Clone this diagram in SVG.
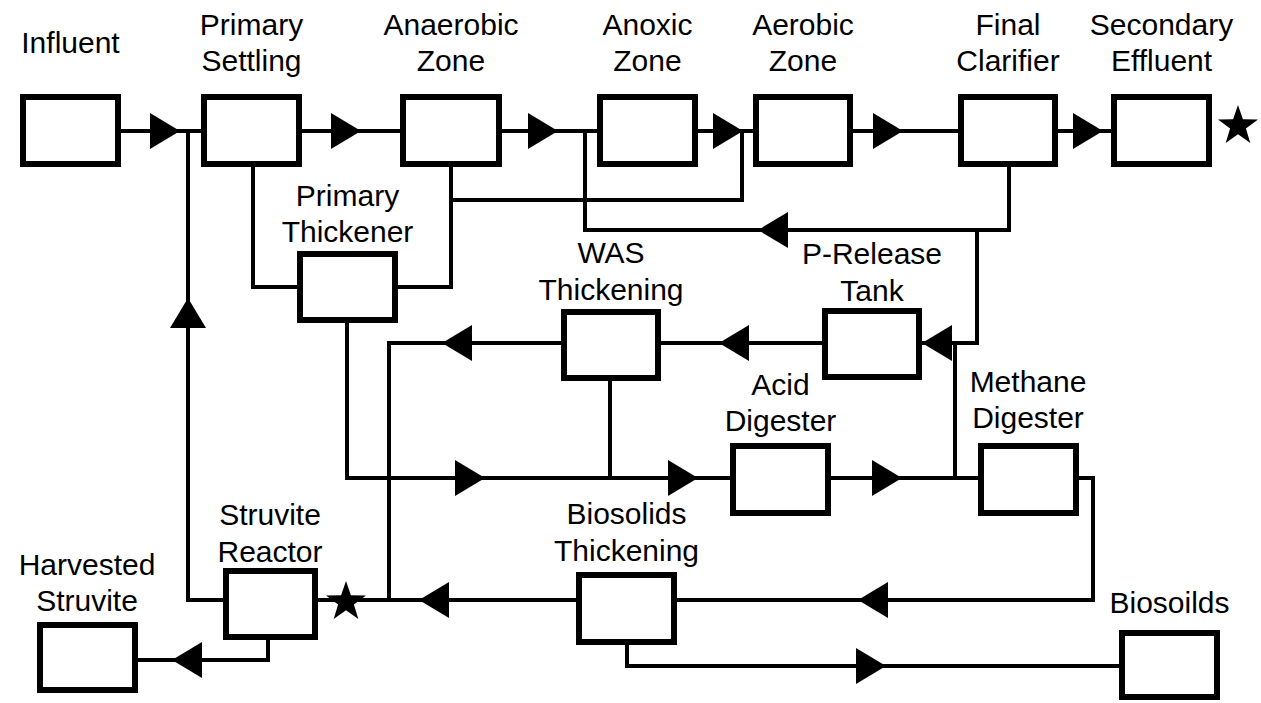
<svg xmlns="http://www.w3.org/2000/svg" xmlns:xlink="http://www.w3.org/1999/xlink" width="1261" height="703" viewBox="0 0 1261 703">
<style>
.box{fill:#fff;stroke:#000;stroke-width:6}
.ln{fill:none;stroke:#000;stroke-width:4}
.lbl{font-family:"Liberation Sans",Arial,sans-serif;font-size:30px;fill:#000;text-anchor:middle}
</style>
<defs>
<polygon id="ah" points="-30,-18 0,0 -30,18" fill="#000"/>
<polygon id="star" points="0,-21 4.9,-6.7 20,-6.5 7.9,2.6 12.3,17 0,8.3 -12.3,17 -7.9,2.6 -20,-6.5 -4.9,-6.7" fill="#000"/>
</defs>
<rect width="1261" height="703" fill="#fff"/>
<g id="connectors">
<path class="ln" d="M121,131H201 M302,131H400 M502,131H597 M698,131H753 M853,131H958 M1058,131H1111"/>
<path class="ln" d="M188,131V600H223"/>
<path class="ln" d="M253,167V287H297"/>
<path class="ln" d="M451,167V287H398 M451,200H742V131"/>
<path class="ln" d="M585,131V230H1009V167"/>
<path class="ln" d="M977,230V343H922"/>
<path class="ln" d="M822,343H661 M561,343H389V600"/>
<path class="ln" d="M955,343V478"/>
<path class="ln" d="M347,323V478H730 M610,381V478 M831,478H978"/>
<path class="ln" d="M1079,478H1093V600H677 M576,600H318"/>
<path class="ln" d="M627,645V666H1119"/>
<path class="ln" d="M268,640V660H138"/>
<use xlink:href="#ah" transform="translate(180,131)"/>
<use xlink:href="#ah" transform="translate(361,131)"/>
<use xlink:href="#ah" transform="translate(558,131)"/>
<use xlink:href="#ah" transform="translate(743,131)"/>
<use xlink:href="#ah" transform="translate(903,131)"/>
<use xlink:href="#ah" transform="translate(1103,131)"/>
<use xlink:href="#ah" transform="translate(758,230) rotate(180)"/>
<use xlink:href="#ah" transform="translate(922,343) rotate(180)"/>
<use xlink:href="#ah" transform="translate(719,343) rotate(180)"/>
<use xlink:href="#ah" transform="translate(442,343) rotate(180)"/>
<use xlink:href="#ah" transform="translate(485,478)"/>
<use xlink:href="#ah" transform="translate(698,478)"/>
<use xlink:href="#ah" transform="translate(902,478)"/>
<use xlink:href="#ah" transform="translate(858,600) rotate(180)"/>
<use xlink:href="#ah" transform="translate(886,666)"/>
<use xlink:href="#ah" transform="translate(419,600) rotate(180)"/>
<use xlink:href="#ah" transform="translate(188,298) rotate(-90)"/>
<use xlink:href="#ah" transform="translate(172,660) rotate(180)"/>
<use xlink:href="#star" transform="translate(1238,126)"/>
<use xlink:href="#star" transform="translate(346,602)"/>
</g>
<g id="influent"><rect class="box" x="23" y="97" width="95" height="67"/><text class="lbl" x="70.5" y="53">Influent</text></g>
<g id="primary-settling"><rect class="box" x="204" y="97" width="95" height="67"/><text class="lbl" x="251.5" y="35">Primary</text><text class="lbl" x="251.5" y="71">Settling</text></g>
<g id="anaerobic-zone"><rect class="box" x="403" y="97" width="96" height="67"/><text class="lbl" x="451" y="35">Anaerobic</text><text class="lbl" x="451" y="71">Zone</text></g>
<g id="anoxic-zone"><rect class="box" x="600" y="97" width="95" height="67"/><text class="lbl" x="647.5" y="35">Anoxic</text><text class="lbl" x="647.5" y="71">Zone</text></g>
<g id="aerobic-zone"><rect class="box" x="756" y="97" width="94" height="67"/><text class="lbl" x="803" y="35">Aerobic</text><text class="lbl" x="803" y="71">Zone</text></g>
<g id="final-clarifier"><rect class="box" x="961" y="97" width="94" height="67"/><text class="lbl" x="1008" y="35">Final</text><text class="lbl" x="1008" y="71">Clarifier</text></g>
<g id="secondary-effluent"><rect class="box" x="1114" y="97" width="95" height="67"/><text class="lbl" x="1161.5" y="35">Secondary</text><text class="lbl" x="1161.5" y="71">Effluent</text></g>
<g id="primary-thickener"><rect class="box" x="300" y="254" width="95" height="66"/><text class="lbl" x="347.5" y="206">Primary</text><text class="lbl" x="347.5" y="242">Thickener</text></g>
<g id="was-thickening"><rect class="box" x="564" y="312" width="94" height="66"/><text class="lbl" x="611" y="263">WAS</text><text class="lbl" x="611" y="300">Thickening</text></g>
<g id="p-release-tank"><rect class="box" x="825" y="311" width="94" height="66"/><text class="lbl" x="872" y="264">P-Release</text><text class="lbl" x="872" y="301">Tank</text></g>
<g id="acid-digester"><rect class="box" x="733" y="446" width="95" height="67"/><text class="lbl" x="780.5" y="395">Acid</text><text class="lbl" x="780.5" y="431">Digester</text></g>
<g id="methane-digester"><rect class="box" x="981" y="446" width="95" height="67"/><text class="lbl" x="1028" y="392">Methane</text><text class="lbl" x="1028" y="428">Digester</text></g>
<g id="struvite-reactor"><rect class="box" x="226" y="571" width="89" height="66"/><text class="lbl" x="270" y="525">Struvite</text><text class="lbl" x="270" y="562">Reactor</text></g>
<g id="harvested-struvite"><rect class="box" x="40" y="625" width="95" height="65"/><text class="lbl" x="87" y="575">Harvested</text><text class="lbl" x="87" y="611">Struvite</text></g>
<g id="biosolids-thickening"><rect class="box" x="579" y="575" width="95" height="67"/><text class="lbl" x="626.5" y="524">Biosolids</text><text class="lbl" x="626.5" y="561">Thickening</text></g>
<g id="biosoilds"><rect class="box" x="1122" y="633" width="95" height="64"/><text class="lbl" x="1169.5" y="613">Biosoilds</text></g>
</svg>
